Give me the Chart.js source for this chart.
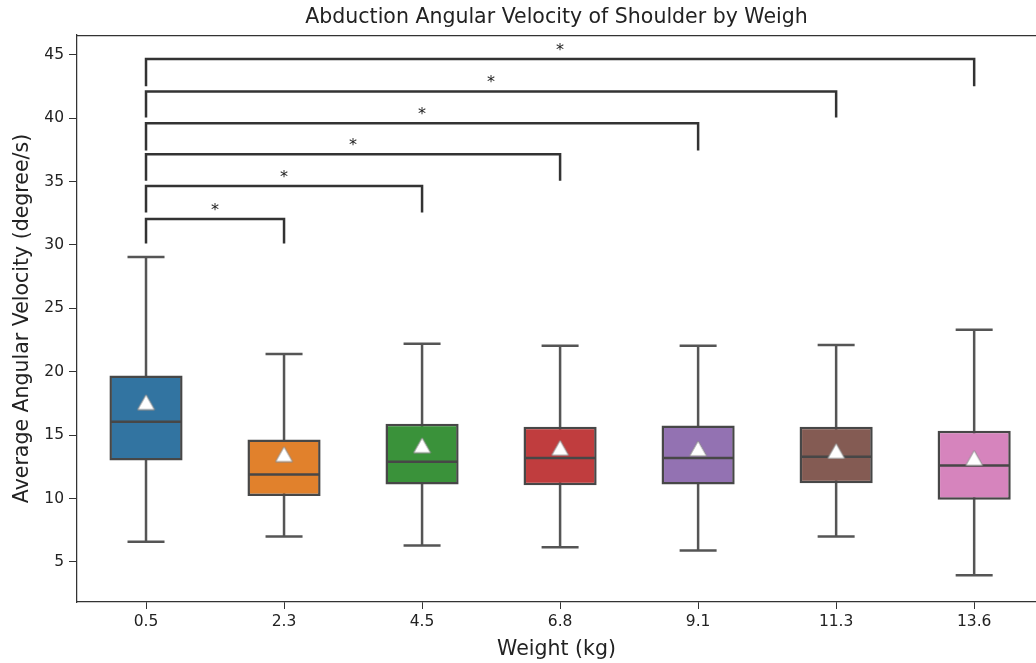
<!DOCTYPE html>
<html>
<head>
<meta charset="utf-8">
<script src="https://cdn.jsdelivr.net/npm/chart.js@4.4.1/dist/chart.umd.min.js"></script>
<style>
  html, body { margin: 0; padding: 0; background: #fff; }
  #wrap { width: 1036px; height: 663px; }
</style>
</head>
<body>
<div id="wrap"><canvas id="boxChart"></canvas></div>
<script>
// weights (kg) on the x axis
const categories = ['0.5', '2.3', '4.5', '6.8', '9.1', '11.3', '13.6'];

// box plot stats (degree/s)
const whiskerLow  = [6.6, 7.0, 6.3, 6.15, 5.9, 7.0, 3.95];
const q1          = [13.0, 10.2, 11.1, 11.05, 11.1, 11.2, 9.9];
const medians     = [16.05, 11.9, 12.9, 13.2, 13.2, 13.3, 12.6];
const q3          = [19.7, 14.65, 15.9, 15.65, 15.75, 15.65, 15.35];
const whiskerHigh = [29.05, 21.4, 22.2, 22.05, 22.05, 22.1, 23.3];
const means       = [17.6, 13.5, 14.2, 14.0, 13.95, 13.75, 13.2];

const boxColors = ['#3274a1', '#e1812c', '#3a923a', '#c03d3e', '#9372b2', '#845b53', '#d684bd'];

// significance brackets: 0.5 kg against each other weight
const bracketTo     = [1, 2, 3, 4, 5, 6];
const bracketTop    = [32.05, 34.65, 37.15, 39.6, 42.1, 44.65];
const bracketBottom = [30.1, 32.55, 35.05, 37.45, 40.05, 42.5];
const bracketText   = ['*', '*', '*', '*', '*', '*'];

const yTicks = [5, 10, 15, 20, 25, 30, 35, 40, 45];

const FONT = "'DejaVu Sans', 'Liberation Sans', sans-serif";
const LINE = '#474747';

// matplotlib-like '^' marker, centred on its bounding box
function makeTriangle(w, h) {
  const c = document.createElement('canvas');
  c.width = w + 2;
  c.height = h + 2;
  const g = c.getContext('2d');
  g.beginPath();
  g.moveTo(c.width / 2, 1);
  g.lineTo(c.width - 1, c.height - 1);
  g.lineTo(1, c.height - 1);
  g.closePath();
  g.fillStyle = '#ffffff';
  g.fill();
  g.strokeStyle = '#8c8c8c';
  g.lineWidth = 1;
  g.stroke();
  return c;
}
const triangle = makeTriangle(17, 15);

const whiskerData = [];
categories.forEach((c, i) => {
  whiskerData.push({ x: i, y: whiskerLow[i] }, { x: i, y: whiskerHigh[i] }, { x: i, y: null });
});

const capData = [];
categories.forEach((c, i) => {
  capData.push({ x: i, y: whiskerLow[i] }, { x: i, y: whiskerHigh[i] });
});

const bracketSets = bracketTo.map((to, k) => ({
  type: 'line',
  data: [
    { x: 0, y: bracketBottom[k] }, { x: 0, y: bracketTop[k] },
    { x: to, y: bracketTop[k] }, { x: to, y: bracketBottom[k] }
  ],
  borderColor: '#333333',
  borderWidth: 2.5,
  pointRadius: 0,
  fill: false,
  order: 0
}));

// stars above each bracket, placed through the scales
const starPlugin = {
  id: 'stars',
  afterDatasetsDraw(chart) {
    const { ctx, scales } = chart;
    ctx.save();
    ctx.fillStyle = '#222';
    ctx.font = '16px ' + FONT;
    ctx.textAlign = 'center';
    ctx.textBaseline = 'alphabetic';
    bracketTo.forEach((to, k) => {
      const x = scales.x.getPixelForValue(to / 2);
      const y = scales.y.getPixelForValue(bracketTop[k]);
      ctx.fillText(bracketText[k], x, y - 4);
    });
    ctx.restore();
  }
};

// top spine (matplotlib frame)
const framePlugin = {
  id: 'frame',
  afterDraw(chart) {
    const { ctx, chartArea } = chart;
    ctx.save();
    ctx.strokeStyle = '#333';
    ctx.lineWidth = 1.25;
    ctx.beginPath();
    ctx.moveTo(chartArea.left, chartArea.top + 0.5);
    ctx.lineTo(chartArea.right, chartArea.top + 0.5);
    ctx.stroke();
    ctx.restore();
  }
};

new Chart(document.getElementById('boxChart').getContext('2d'), {
  data: {
    datasets: [
      ...bracketSets,
      {
        type: 'scatter',
        data: categories.map((c, i) => ({ x: i, y: means[i] })),
        pointStyle: triangle,
        pointRadius: 9,
        order: 1
      },
      {
        type: 'scatter',
        data: categories.map((c, i) => ({ x: i, y: medians[i] })),
        pointStyle: 'line',
        pointRadius: 35.5,
        pointBorderColor: LINE,
        pointBorderWidth: 2.5,
        order: 2
      },
      {
        type: 'bar',
        data: categories.map((c, i) => ({ x: i, y: [q1[i], q3[i]] })),
        backgroundColor: boxColors,
        borderColor: LINE,
        borderWidth: 2.5,
        borderSkipped: false,
        barPercentage: 0.53,
        categoryPercentage: 1,
        order: 3
      },
      {
        type: 'scatter',
        data: capData,
        pointStyle: 'line',
        pointRadius: 18.5,
        pointBorderColor: '#555',
        pointBorderWidth: 2.5,
        order: 4
      },
      {
        type: 'line',
        data: whiskerData,
        borderColor: '#555',
        borderWidth: 2.5,
        pointRadius: 0,
        spanGaps: false,
        order: 5
      }
    ]
  },
  options: {
    responsive: true,
    maintainAspectRatio: false,
    animation: false,
    layout: { padding: 0, autoPadding: false },
    plugins: {
      legend: { display: false },
      tooltip: { enabled: false },
      title: {
        display: true,
        text: 'Abduction Angular Velocity of Shoulder by Weigh',
        fullSize: false,
        color: '#222',
        font: { family: FONT, size: 20.5, weight: 'normal' },
        padding: { top: 5, bottom: 5.4 }
      }
    },
    scales: {
      x: {
        type: 'linear',
        offset: false,
        min: -0.5,
        max: 6.448,
        afterBuildTicks: axis => { axis.ticks = categories.map((c, i) => ({ value: i })); },
        afterFit: axis => {
          axis.height = 61;
          axis.paddingLeft = 0;
          axis.paddingRight = 0;
        },
        ticks: {
          callback: v => categories[v],
          color: '#222',
          font: { family: FONT, size: 15.5 },
          padding: 4,
          maxRotation: 0
        },
        grid: { display: true, offset: false, drawOnChartArea: false, drawTicks: true, tickLength: 7, tickColor: '#333', tickWidth: 1 },
        border: { display: true, color: '#333', width: 1.25 },
        title: {
          display: true,
          text: 'Weight (kg)',
          color: '#222',
          font: { family: FONT, size: 20.5 },
          padding: { top: 2, bottom: 1.5 }
        }
      },
      y: {
        type: 'linear',
        min: 1.84,
        max: 46.55,
        afterBuildTicks: axis => { axis.ticks = yTicks.map(v => ({ value: v })); },
        afterFit: axis => {
          axis.width = 77;
          axis.paddingTop = 0;
          axis.paddingBottom = 0;
        },
        ticks: {
          color: '#222',
          font: { family: FONT, size: 15.5 },
          padding: 5
        },
        grid: { display: true, drawOnChartArea: false, drawTicks: true, tickLength: 8, tickColor: '#333', tickWidth: 1 },
        border: { display: true, color: '#333', width: 1.25 },
        title: {
          display: true,
          text: 'Average Angular Velocity (degree/s)',
          color: '#222',
          font: { family: FONT, size: 20.5 },
          padding: { top: 10.7, bottom: 4 }
        }
      }
    }
  },
  plugins: [starPlugin, framePlugin]
});
</script>
</body>
</html>
